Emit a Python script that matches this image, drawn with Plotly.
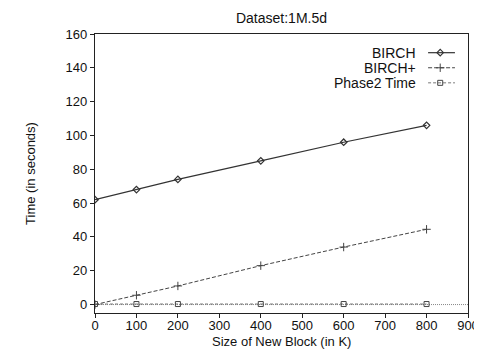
import plotly.graph_objects as go

block_sizes = [0, 100, 200, 400, 600, 800]
birch = [62, 68, 74, 85, 96, 106]
birch_plus = [0, 5.5, 11, 23, 34, 44.5]
phase2 = [0.3, 0.3, 0.3, 0.3, 0.3, 0.3]
series_names = ["BIRCH", "BIRCH+", "Phase2 Time"]
x_ticks = [0, 100, 200, 300, 400, 500, 600, 700, 800, 900]
y_ticks = [0, 20, 40, 60, 80, 100, 120, 140, 160]

FONT = "Liberation Sans, Arial, Helvetica, sans-serif"
INK = "#222222"
W, H = 474, 341  # page body has an 8px margin

styles = [
    dict(line=dict(color="#333333", width=1.2), marker=dict(symbol="diamond-open", size=5, color="#333333", line=dict(width=1.2))),
    dict(line=dict(color="#444444", width=1, dash="4px,2px"), marker=dict(symbol="cross-thin-open", size=6, color="#444444", line=dict(width=1, color="#444444"))),
    dict(line=dict(color="#777777", width=1, dash="3px,2px"), marker=dict(symbol="square-open", size=5, color="#444444", line=dict(width=1, color="#444444"))),
]

fig = go.Figure()

# zero axis (dotted)
fig.add_hline(y=0, line=dict(color="#888888", width=1, dash="1px,1px"), layer="below")

for name, vals, st in zip(series_names, [birch, birch_plus, phase2], styles):
    fig.add_trace(go.Scatter(x=block_sizes, y=vals, mode="lines+markers", name=name,
                             line=st["line"], marker=st["marker"], showlegend=False))

# custom legend (text right, sample on the right side) on overlay axes
leg_y = [0.933, 0.879, 0.825]
for name, yy, st in zip(series_names, leg_y, styles):
    fig.add_trace(go.Scatter(x=[0.893, 0.965], y=[yy, yy], mode="lines", line=st["line"],
                             xaxis="x2", yaxis="y2", showlegend=False, hoverinfo="skip"))
    fig.add_trace(go.Scatter(x=[0.9255], y=[yy], mode="markers", marker=st["marker"],
                             xaxis="x2", yaxis="y2", showlegend=False, hoverinfo="skip"))
    fig.add_annotation(x=0.866, y=yy, xref="x2 domain", yref="y2", text=name, showarrow=False,
                       xanchor="right", yanchor="middle", font=dict(family=FONT, size=14, color="#111111"))

# x-axis title as annotation (exact placement)
fig.add_annotation(x=0.5, y=0, xref="paper", yref="paper", yshift=-28, text="Size of New Block (in K)",
                   showarrow=False, xanchor="center", yanchor="middle",
                   font=dict(family=FONT, size=13, color="#111111"))

fig.update_layout(
    width=W, height=H,
    margin=dict(l=87, r=14, t=26, b=36, autoexpand=False),
    paper_bgcolor="white", plot_bgcolor="white",
    font=dict(family=FONT, size=13, color="#111111"),
    title=dict(text="Dataset:1M.5d", x=(87 + 186.5) / W, xanchor="center", y=1 - 10.5 / H, yanchor="middle",
               font=dict(family=FONT, size=14, color="#111111")),
    xaxis=dict(range=[0, 900], tickvals=x_ticks, ticks="outside", ticklen=4, tickcolor=INK,
               showline=True, linecolor=INK, linewidth=1.3, mirror=True, showgrid=False,
               zeroline=False, automargin=False, ticklabelstandoff=-4,
               tickfont=dict(size=13)),
    yaxis=dict(range=[-5, 160], tickvals=y_ticks, ticks="outside", ticklen=4, tickcolor=INK,
               showline=True, linecolor=INK, linewidth=1.3, mirror=True, showgrid=False,
               zeroline=False, automargin=False,
               title=dict(text="Time (in seconds)", standoff=26, font=dict(family=FONT, size=13, color="#111111")),
               tickfont=dict(size=13)),
    xaxis2=dict(range=[0, 1], overlaying="x", visible=False, anchor="y2"),
    yaxis2=dict(range=[0, 1], overlaying="y", visible=False, anchor="x2"),
)

fig.write_html("out.html")
